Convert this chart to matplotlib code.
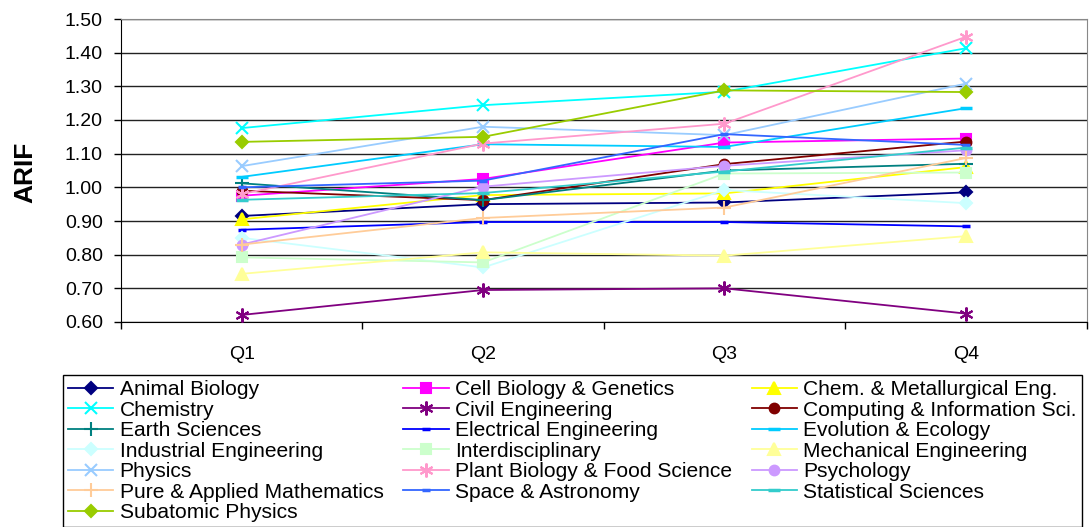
import matplotlib

matplotlib.use('Agg')
import matplotlib.pyplot as plt

quarters = ['Q1', 'Q2', 'Q3', 'Q4']

animal_biology = [0.915, 0.950, 0.955, 0.985]
cell_biology = [0.975, 1.025, 1.133, 1.145]
chem_metallurgical = [0.905, 0.977, 0.982, 1.060]
chemistry = [1.176, 1.244, 1.284, 1.413]
civil_engineering = [0.621, 0.695, 0.700, 0.625]
computing = [0.990, 0.962, 1.069, 1.136]
earth_sciences = [1.012, 0.962, 1.050, 1.070]
electrical_engineering = [0.874, 0.897, 0.897, 0.884]
evolution_ecology = [1.031, 1.128, 1.120, 1.235]
industrial_engineering = [0.850, 0.762, 0.992, 0.953]
interdisciplinary = [0.792, 0.777, 1.041, 1.044]
mechanical_engineering = [0.743, 0.807, 0.797, 0.855]
physics = [1.063, 1.180, 1.155, 1.308]
plant_biology = [0.980, 1.130, 1.189, 1.447]
psychology = [0.830, 1.002, 1.064, 1.110]
pure_applied_math = [0.830, 0.909, 0.940, 1.087]
space_astronomy = [1.000, 1.020, 1.158, 1.126]
statistical_sciences = [0.963, 0.983, 1.047, 1.118]
subatomic_physics = [1.135, 1.150, 1.288, 1.283]

ASTERISK = (6, 2, 0)

# (label, values, colour, marker, markersize)
series = [
    ('Animal Biology', animal_biology, '#000080', 'D', 6),
    ('Cell Biology & Genetics', cell_biology, '#FF00FF', 's', 7),
    ('Chem. & Metallurgical Eng.', chem_metallurgical, '#FFFF00', '^', 9),
    ('Chemistry', chemistry, '#00FFFF', 'x', 8),
    ('Civil Engineering', civil_engineering, '#800080', ASTERISK, 10),
    ('Computing & Information Sci.', computing, '#800000', 'o', 7),
    ('Earth Sciences', earth_sciences, '#008080', '+', 10),
    ('Electrical Engineering', electrical_engineering, '#0000FF', '_', 6),
    ('Evolution & Ecology', evolution_ecology, '#00CCFF', '_', 9),
    ('Industrial Engineering', industrial_engineering, '#CCFFFF', 'D', 6),
    ('Interdisciplinary', interdisciplinary, '#CCFFCC', 's', 7),
    ('Mechanical Engineering', mechanical_engineering, '#FFFF99', '^', 9),
    ('Physics', physics, '#99CCFF', 'x', 8),
    ('Plant Biology & Food Science', plant_biology, '#FF99CC', ASTERISK, 10),
    ('Psychology', psychology, '#CC99FF', 'o', 7),
    ('Pure & Applied Mathematics', pure_applied_math, '#FFCC99', '+', 10),
    ('Space & Astronomy', space_astronomy, '#3366FF', '_', 6),
    ('Statistical Sciences', statistical_sciences, '#33CCCC', '_', 9),
    ('Subatomic Physics', subatomic_physics, '#99CC00', 'D', 6),
]


def main():
    plt.rcParams['font.family'] = ['Liberation Sans', 'DejaVu Sans']
    fig = plt.figure(figsize=(10.9, 5.27), dpi=100)
    ax = fig.add_axes([121 / 1090, 1 - 322 / 527, (1086.5 - 121) / 1090, (322 - 19) / 527])

    x = list(range(len(quarters)))
    handles = []
    for label, values, color, marker, ms in series:
        mew = 2.5 if marker == '_' else 1.5
        line, = ax.plot(x, values, color=color, lw=1.3, marker=marker, markersize=ms,
                        markeredgewidth=mew, markerfacecolor=color, markeredgecolor=color,
                        label=label, zorder=3)
        handles.append(line)

    ax.set_xlim(-0.5, len(quarters) - 0.5)
    ax.set_ylim(0.6, 1.5)
    ax.set_yticks([0.6 + 0.1 * i for i in range(10)])
    ax.set_yticklabels([f'{0.6 + 0.1 * i:.2f}' for i in range(10)], fontsize=14)
    ax.grid(axis='y', color='#222222', lw=1)
    ax.set_axisbelow(True)

    # category boundaries carry the tick marks, labels sit in the middle
    ax.set_xticks([i - 0.5 for i in range(len(quarters) + 1)])
    ax.set_xticklabels([])
    ax.set_xticks(x, minor=True)
    ax.set_xticklabels(quarters, minor=True, fontsize=14)
    ax.tick_params(axis='x', which='major', length=5, width=1, direction='out', color='black')
    ax.tick_params(axis='x', which='minor', length=0, pad=17)
    ax.tick_params(axis='y', length=5, width=1, direction='out', pad=8)

    for side in ['left', 'bottom']:
        ax.spines[side].set_color('black')
    for side in ['top', 'right']:
        ax.spines[side].set_color('#888888')

    fig.text(25 / 1090, 1 - 172 / 527, 'ARIF', rotation=90, fontsize=19, fontweight='bold',
             ha='center', va='center')

    # legend is filled column by column, reference reads row by row
    order = list(range(0, 19, 3)) + list(range(1, 19, 3)) + list(range(2, 19, 3))
    leg = fig.legend([handles[i] for i in order], [series[i][0] for i in order],
                     loc='upper left', bbox_to_anchor=(63 / 1090, 1 - 375 / 527),
                     ncol=3, fontsize=15.1, frameon=True, fancybox=False,
                     edgecolor='black', framealpha=1, labelspacing=0.07, handlelength=2.15,
                     handletextpad=0.3, borderpad=0.25, borderaxespad=0, columnspacing=0.95)
    leg.get_frame().set_linewidth(1)

    fig.savefig('out.png', dpi=100)


if __name__ == "__main__":
    main()
